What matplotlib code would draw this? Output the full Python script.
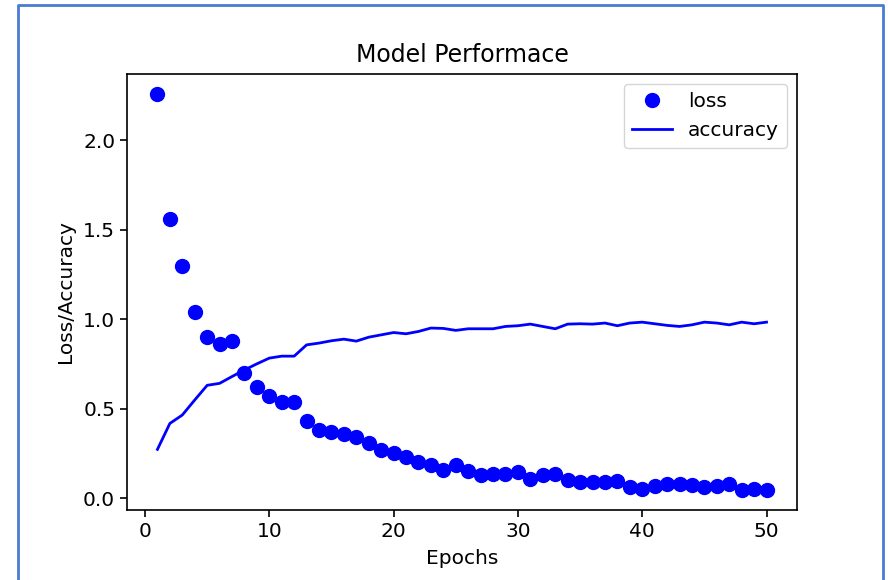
import matplotlib
matplotlib.use("Agg")
import matplotlib.pyplot as plt
from matplotlib.lines import Line2D

epochs = list(range(1, 51))

loss = [2.26, 1.56, 1.30, 1.04, 0.90, 0.86, 0.88, 0.70, 0.62, 0.57,
        0.54, 0.54, 0.43, 0.38, 0.37, 0.36, 0.34, 0.31, 0.27, 0.25,
        0.23, 0.20, 0.185, 0.157, 0.185, 0.153, 0.129, 0.138, 0.138, 0.147,
        0.106, 0.129, 0.133, 0.101, 0.088, 0.088, 0.092, 0.097, 0.060, 0.054,
        0.069, 0.077, 0.080, 0.073, 0.060, 0.069, 0.077, 0.045, 0.054, 0.045]

accuracy = [0.273, 0.418, 0.465, 0.549, 0.631, 0.642, 0.680, 0.717, 0.751, 0.783,
            0.794, 0.794, 0.857, 0.867, 0.880, 0.889, 0.878, 0.900, 0.913, 0.926,
            0.919, 0.932, 0.951, 0.949, 0.938, 0.947, 0.947, 0.947, 0.960, 0.964,
            0.973, 0.960, 0.947, 0.973, 0.975, 0.973, 0.979, 0.964, 0.979, 0.984,
            0.975, 0.966, 0.960, 0.969, 0.984, 0.979, 0.969, 0.984, 0.975, 0.984]

fig = plt.figure(figsize=(8.88, 5.8), dpi=100)
ax = fig.add_axes([0.143, 0.1207, 0.7545, 0.7517])

ax.plot(epochs, loss, "bo", markersize=10, label="loss")
ax.plot(epochs, accuracy, "b", linewidth=2, label="accuracy")

ax.set_title("Model Performace", fontsize=17, pad=9)
ax.set_xlabel("Epochs", fontsize=14.5, labelpad=6)
ax.set_ylabel("Loss/Accuracy", fontsize=14.5, labelpad=6)
ax.tick_params(labelsize=14.5, length=5, width=1.2)
for sp in ax.spines.values():
    sp.set_linewidth(1.2)
ax.legend(loc="upper right", fontsize=14.5)

# blue screenshot frame around the figure
frame = "#4a7bd4"
fig.add_artist(Line2D([0.0203, 0.0203, 0.9949, 0.9949], [0.0, 0.9914, 0.9914, 0.0],
                      transform=fig.transFigure, color=frame, linewidth=2))

fig.savefig("out.png", dpi=100)
